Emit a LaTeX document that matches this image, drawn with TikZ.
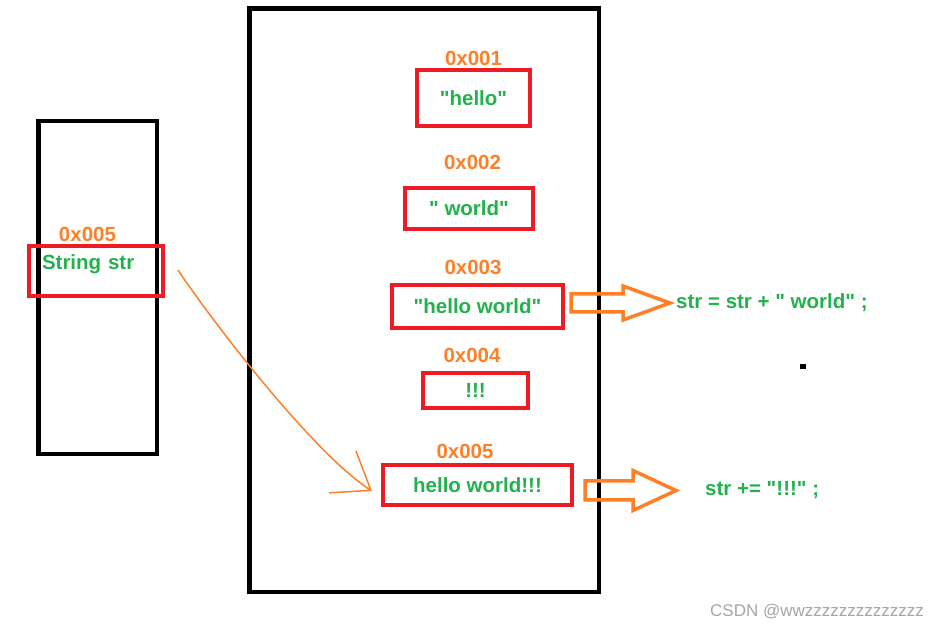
\documentclass[tikz,border=0pt]{standalone}
\usepackage{fontspec}
\setmainfont{Liberation Sans}[Ligatures=TeXOff]
\usepackage{tikz}
\usetikzlibrary{arrows.meta, positioning}
\definecolor{myred}{RGB}{237,28,36}
\definecolor{mygreen}{RGB}{34,177,76}
\definecolor{myorange}{RGB}{255,127,39}
\definecolor{mygray}{RGB}{165,165,165}
\tikzset{
  stackbox/.style={draw=black, line width=4.5pt},
  cell/.style={rectangle, draw=myred, line width=4pt, inner sep=0pt,
    text=mygreen, font=\fontsize{20.5}{24}\selectfont\bfseries},
  addr/.style={inner sep=0pt, text=myorange,
    font=\fontsize{20.5}{24}\selectfont\bfseries},
  optext/.style={inner sep=0pt, anchor=west, text=mygreen,
    font=\fontsize{20.5}{24}\selectfont\bfseries},
  fatarrow/.style={draw=myorange, line width=3.5pt, line join=miter},
  ptrarrow/.style={-{Straight Barb[length=34pt,width=50pt]}, draw=myorange, line width=1.5pt}
}

\begin{document}
\begin{tikzpicture}[x=1pt, y=1pt]
  \useasboundingbox (0,0) rectangle (943,631);
  % stack and heap
  \draw[stackbox] (38.5,177) rectangle (157,510);
  \draw[stackbox] (249.5,39) rectangle (599,622.5);

  \node[cell, minimum width=134pt, minimum height=50pt, text width=108pt,
    align=left, text depth=18pt] (strbox) at (96,360) {String str};
  \node[cell, minimum width=113pt, minimum height=56pt] (hello) at (473.5,533) {"hello"};
  \node[cell, minimum width=128pt, minimum height=41pt] (world) at (469,422.5) {" world"};
  \node[cell, minimum width=171pt, minimum height=43pt] (hw) at (477.5,324.5) {"hello world"};
  \node[cell, minimum width=105pt, minimum height=35pt] (excl) at (475.5,240.5) {!!!};
  \node[cell, minimum width=189pt, minimum height=40pt] (hwe) at (477.5,146) {hello world!!!};

  % addresses
  \node[addr, above=2pt of strbox, xshift=-8.5pt] (a0) {0x005};
  \node[addr, above=2pt of hello] (a1) {0x001};
  \node[addr, above=16pt of world, xshift=3.5pt] (a2) {0x002};
  \node[addr, above=8pt of hw, xshift=-4.5pt] (a3) {0x003};
  \node[addr, above=8pt of excl, xshift=-3.5pt] (a4) {0x004};
  \node[addr, above=4pt of hwe, xshift=-12.5pt] (a5) {0x005};

  % operations
  \node[optext] (op1) at (676,328) {str = str + " world" ;};
  \node[optext] (op2) at (705,141) {str += "!!!" ;};
  \draw[fatarrow, shift={(hw.east)}] (6,12.5) -- (58,12.5) -- (58,20.5)
    -- (105,3.5) -- (58,-13.5) -- (58,-5.5) -- (6,-5.5) -- cycle;
  \draw[fatarrow, shift={(hwe.east)}] (11,4) -- (59,4) -- (59,14.5)
    -- (102,-5.5) -- (59,-25.5) -- (59,-15) -- (11,-15) -- cycle;

  % str now points to the new object
  \draw[ptrarrow] ([xshift=13pt,yshift=1pt]strbox.east) .. controls +(27,-41) and +(-62,40)
    .. ([xshift=-9pt,yshift=-6pt]hwe.west);

  \fill (800,262) rectangle (806,267);
  \node[anchor=west, inner sep=0pt, text=mygray, font=\fontsize{17}{20}\selectfont]
    (wm) at (710,19) {CSDN @wwzzzzzzzzzzzzzz};
\end{tikzpicture}
\end{document}
